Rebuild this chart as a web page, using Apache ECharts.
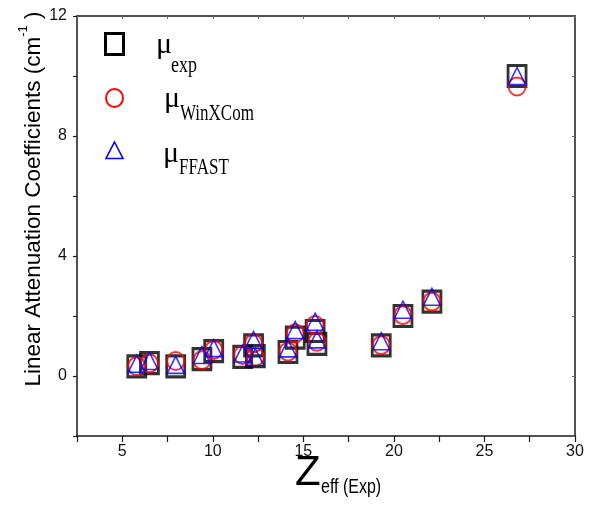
<!DOCTYPE html>
<html><head><meta charset="utf-8">
<script src="https://cdn.jsdelivr.net/npm/echarts@6/dist/echarts.min.js"></script>
<style>html,body{margin:0;padding:0;background:#fff}#c{width:592px;height:520px}</style>
</head><body><div id="c"></div>
<script>
// Data
const zeff      = [5.8, 6.5, 7.95, 9.4, 10.05, 11.65, 12.25, 12.35, 14.15, 14.55, 15.65, 15.75, 19.3, 20.5, 22.1, 26.8];
const muExp     = [0.32, 0.43, 0.32, 0.56, 0.83, 0.64, 1.02, 0.66, 0.80, 1.28, 1.50, 1.07, 1.02, 2.00, 2.48, 10.0];
const muWinXCom = [0.33, 0.42, 0.50, 0.53, 0.87, 0.70, 1.09, 0.64, 0.81, 1.42, 1.70, 1.14, 1.03, 2.03, 2.48, 9.65];
const muFFAST   = [0.41, 0.50, 0.37, 0.70, 0.93, 0.75, 1.20, 0.63, 0.92, 1.53, 1.81, 1.22, 1.16, 2.21, 2.64, 10.0];
const xTickLabels = ['5', '10', '15', '20', '25', '30'];
const yTickLabels = ['0', '4', '8', '12'];

const pairs = ys => zeff.map((z, i) => [z, ys[i]]);
const axisCol = '#1a1a1a';
const sans = 'Liberation Sans, Arial, sans-serif';
const serif = 'Liberation Serif, Times New Roman, serif';

const chart = echarts.init(document.getElementById('c'), null, {renderer: 'canvas'});
chart.setOption({
  animation: false,
  backgroundColor: '#fff',
  grid: {left: 77, top: 16, right: 17, bottom: 84, containLabel: false},
  xAxis: [{
    type: 'value', min: 2.5, max: 30, interval: 2.5,
    axisLine: {show: true, onZero: false, lineStyle: {color: axisCol, width: 1.5}},
    axisTick: {show: true, inside: false, length: 6, lineStyle: {color: axisCol, width: 1.2}},
    axisLabel: {color: '#111', fontFamily: sans, fontSize: 16, margin: 8,
      formatter: v => xTickLabels.includes(String(v)) ? String(v) : ''},
    splitLine: {show: false}
  }, {
    type: 'value', position: 'top', min: 2.5, max: 30, interval: 2.5,
    axisLine: {show: true, onZero: false, lineStyle: {color: axisCol, width: 1.5}},
    axisTick: {show: true, inside: true, length: 3, lineStyle: {color: '#666', width: 1}},
    axisLabel: {show: false}, splitLine: {show: false}
  }],
  yAxis: [{
    type: 'value', min: -2, max: 12, interval: 2,
    axisLine: {show: true, onZero: false, lineStyle: {color: axisCol, width: 1.5}},
    axisTick: {show: true, inside: false, length: 4, lineStyle: {color: axisCol, width: 1.2}},
    axisLabel: {color: '#111', fontFamily: sans, fontSize: 16, margin: 10,
      formatter: v => yTickLabels.includes(String(v)) ? String(v) : ''},
    splitLine: {show: false}
  }, {
    type: 'value', position: 'right', min: -2, max: 12, interval: 2,
    axisLine: {show: true, onZero: false, lineStyle: {color: axisCol, width: 1.5}},
    axisTick: {show: true, inside: true, length: 3, lineStyle: {color: '#666', width: 1}},
    axisLabel: {show: false}, splitLine: {show: false}
  }],
  series: [{
    name: 'μexp', type: 'scatter', data: pairs(muExp),
    symbol: 'rect', symbolSize: [18, 21],
    itemStyle: {color: 'rgba(0,0,0,0)', borderColor: '#000', borderWidth: 3},
    z: 2
  }, {
    name: 'μWinXCom', type: 'scatter', data: pairs(muWinXCom),
    symbol: 'circle', symbolSize: [17, 18],
    itemStyle: {color: 'rgba(0,0,0,0)', borderColor: '#ff0000', borderWidth: 2},
    z: 3
  }, {
    name: 'μFFAST', type: 'scatter', data: pairs(muFFAST),
    symbol: 'triangle', symbolSize: [17, 17],
    itemStyle: {color: 'rgba(0,0,0,0)', borderColor: '#0000ff', borderWidth: 1.6},
    z: 4
  }],
  graphic: [
    // legend symbols
    {type: 'rect', shape: {x: 105.5, y: 33.5, width: 18, height: 21},
     style: {fill: 'none', stroke: '#000', lineWidth: 3}},
    {type: 'ellipse', shape: {cx: 114.5, cy: 98, rx: 8.5, ry: 9},
     style: {fill: 'none', stroke: '#ff0000', lineWidth: 2}},
    {type: 'polygon', shape: {points: [[114.5, 142], [123, 158.5], [106, 158.5]]},
     style: {fill: 'none', stroke: '#0000ff', lineWidth: 1.6}},
    // legend texts
    {type: 'text', x: 156, y: 45, style: {text: 'μ', font: '30px ' + serif, fill: '#000', verticalAlign: 'middle'}},
    {type: 'text', x: 171, y: 54, scaleY: 1.3, style: {text: 'exp', font: '18px ' + serif, fill: '#000', verticalAlign: 'top'}},
    {type: 'text', x: 164, y: 99, style: {text: 'μ', font: '30px ' + serif, fill: '#000', verticalAlign: 'middle'}},
    {type: 'text', x: 180, y: 103, scaleY: 1.3, style: {text: 'WinXCom', font: '17px ' + serif, fill: '#000', verticalAlign: 'top'}},
    {type: 'text', x: 163, y: 154, style: {text: 'μ', font: '30px ' + serif, fill: '#000', verticalAlign: 'middle'}},
    {type: 'text', x: 179, y: 157, scaleY: 1.3, style: {text: 'FFAST', font: '17px ' + serif, fill: '#000', verticalAlign: 'top'}},
    // y axis title
    {type: 'text', x: 31, y: 199, rotation: Math.PI / 2,
     style: {text: '{a|Linear Attenuation Coefficients (cm}{s|-1}{a| )}', align: 'center', verticalAlign: 'middle',
       rich: {a: {fontFamily: sans, fontSize: 22.5, fill: '#000', verticalAlign: 'bottom', lineHeight: 28},
              s: {fontFamily: sans, fontSize: 13, fill: '#000', verticalAlign: 'top', lineHeight: 28}}}},
    // x axis title
    {type: 'text', x: 295, y: 452, style: {text: 'Z', font: '42px ' + sans, fill: '#000', verticalAlign: 'top'}},
    {type: 'text', x: 321, y: 477, scaleY: 1.25, style: {text: 'eff (Exp)', font: '16px ' + sans, fill: '#000', verticalAlign: 'top'}}
  ]
});
</script>
</body></html>
